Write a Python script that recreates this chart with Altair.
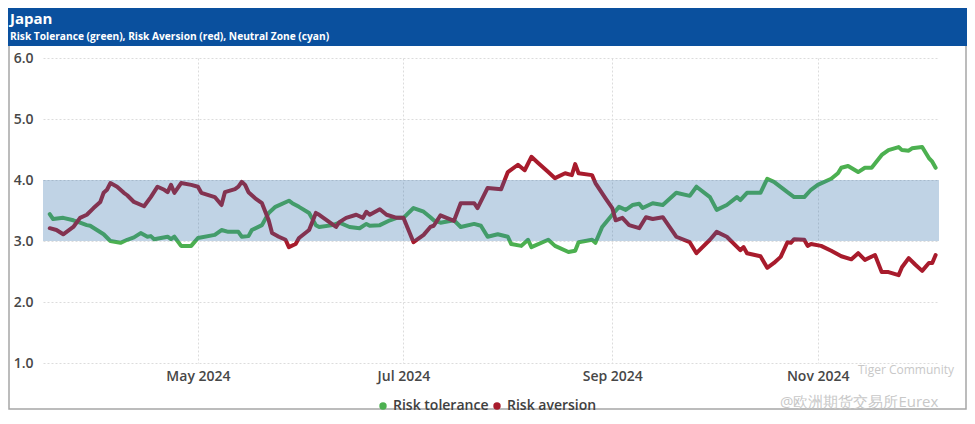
import altair as alt
import pandas as pd

# ---------------- data ----------------
tol_dates = ["2024-03-18","2024-03-19","2024-03-22","2024-03-25","2024-03-27","2024-03-29","2024-03-30",
 "2024-04-01","2024-04-03","2024-04-05","2024-04-08","2024-04-10","2024-04-12","2024-04-14","2024-04-16",
 "2024-04-17","2024-04-18","2024-04-22","2024-04-23","2024-04-24","2024-04-26","2024-04-29","2024-05-01",
 "2024-05-06","2024-05-08","2024-05-10","2024-05-13","2024-05-14","2024-05-16","2024-05-17","2024-05-20",
 "2024-05-22","2024-05-24","2024-05-28","2024-05-29","2024-05-31","2024-06-03","2024-06-05","2024-06-06",
 "2024-06-10","2024-06-12","2024-06-15","2024-06-18","2024-06-20","2024-06-21","2024-06-24","2024-06-27",
 "2024-06-29","2024-07-01","2024-07-04","2024-07-07","2024-07-09","2024-07-10","2024-07-12","2024-07-16",
 "2024-07-18","2024-07-22","2024-07-24","2024-07-26","2024-07-29","2024-08-01","2024-08-02","2024-08-05",
 "2024-08-07","2024-08-08","2024-08-13","2024-08-15","2024-08-19","2024-08-21","2024-08-22","2024-08-26",
 "2024-08-27","2024-08-29","2024-09-01","2024-09-03","2024-09-05","2024-09-07","2024-09-09","2024-09-10",
 "2024-09-13","2024-09-16","2024-09-20","2024-09-24","2024-09-26","2024-09-30","2024-10-02","2024-10-05",
 "2024-10-08","2024-10-09","2024-10-11","2024-10-15","2024-10-17","2024-10-19","2024-10-23","2024-10-25",
 "2024-10-28","2024-10-30","2024-11-01","2024-11-05","2024-11-07","2024-11-08","2024-11-10","2024-11-13",
 "2024-11-15","2024-11-17","2024-11-20","2024-11-22","2024-11-25","2024-11-26","2024-11-28","2024-11-29",
 "2024-12-02","2024-12-04","2024-12-05","2024-12-06"]
tol_values = [3.44,3.36,3.38,3.34,3.30,3.26,3.25,
 3.18,3.11,3.00,2.97,3.02,3.06,3.13,3.07,
 3.08,3.03,3.07,3.03,3.07,2.92,2.92,3.05,
 3.10,3.18,3.15,3.15,3.07,3.08,3.18,3.26,
 3.46,3.56,3.66,3.62,3.56,3.46,3.26,3.23,
 3.26,3.30,3.23,3.21,3.28,3.25,3.26,3.34,
 3.38,3.38,3.54,3.48,3.39,3.34,3.30,3.34,
 3.23,3.28,3.25,3.07,3.11,3.07,2.95,2.92,
 3.02,2.90,3.02,2.92,2.82,2.84,2.98,3.02,
 2.97,3.23,3.43,3.56,3.51,3.59,3.61,3.54,
 3.62,3.59,3.79,3.74,3.89,3.72,3.51,3.59,
 3.72,3.67,3.79,3.79,4.02,3.97,3.80,3.72,
 3.72,3.84,3.92,4.02,4.11,4.20,4.23,4.13,
 4.20,4.20,4.41,4.49,4.54,4.49,4.48,4.52,
 4.54,4.36,4.30,4.20]

avr_dates = ["2024-03-18","2024-03-20","2024-03-22","2024-03-25","2024-03-27","2024-03-29","2024-03-31",
 "2024-04-02","2024-04-03","2024-04-04","2024-04-05","2024-04-07","2024-04-09","2024-04-10","2024-04-12",
 "2024-04-15","2024-04-17","2024-04-19","2024-04-21","2024-04-22","2024-04-23","2024-04-24","2024-04-26",
 "2024-04-29","2024-05-01","2024-05-02","2024-05-06","2024-05-08","2024-05-09","2024-05-12","2024-05-13",
 "2024-05-14","2024-05-15","2024-05-16","2024-05-18","2024-05-20","2024-05-22","2024-05-23","2024-05-25",
 "2024-05-27","2024-05-28","2024-05-30","2024-05-31","2024-06-03","2024-06-05","2024-06-06","2024-06-11",
 "2024-06-12","2024-06-14","2024-06-17","2024-06-19","2024-06-20","2024-06-21","2024-06-24","2024-06-26",
 "2024-06-29","2024-07-01","2024-07-04","2024-07-07","2024-07-09","2024-07-10","2024-07-12","2024-07-16",
 "2024-07-18","2024-07-22","2024-07-23","2024-07-26","2024-07-30","2024-08-01","2024-08-04","2024-08-06",
 "2024-08-08","2024-08-10","2024-08-13","2024-08-15","2024-08-18","2024-08-20","2024-08-21","2024-08-22",
 "2024-08-26","2024-08-27","2024-08-30","2024-09-01","2024-09-02","2024-09-04","2024-09-06","2024-09-09",
 "2024-09-11","2024-09-13","2024-09-16","2024-09-20","2024-09-24","2024-09-26","2024-09-30","2024-10-02",
 "2024-10-05","2024-10-09","2024-10-10","2024-10-11","2024-10-15","2024-10-17","2024-10-19","2024-10-21",
 "2024-10-23","2024-10-24","2024-10-25","2024-10-28","2024-10-29","2024-10-30","2024-11-02","2024-11-05",
 "2024-11-08","2024-11-11","2024-11-13","2024-11-15","2024-11-18","2024-11-20","2024-11-22","2024-11-25",
 "2024-11-26","2024-11-28","2024-11-30","2024-12-02","2024-12-04","2024-12-05","2024-12-06"]
avr_values = [3.21,3.18,3.11,3.23,3.38,3.43,3.54,
 3.64,3.79,3.84,3.95,3.89,3.79,3.75,3.64,
 3.57,3.72,3.89,3.84,3.80,3.92,3.79,3.95,
 3.92,3.89,3.79,3.72,3.59,3.80,3.85,3.89,
 3.97,3.92,3.80,3.70,3.62,3.34,3.13,3.07,
 3.02,2.90,2.95,3.05,3.18,3.46,3.43,3.23,
 3.31,3.38,3.43,3.38,3.48,3.43,3.52,3.43,
 3.38,3.38,2.98,3.10,3.23,3.25,3.42,3.33,
 3.62,3.62,3.54,3.87,3.85,4.13,4.25,4.16,
 4.38,4.28,4.13,4.03,4.11,4.08,4.26,4.11,
 4.08,3.95,3.70,3.54,3.34,3.38,3.26,3.21,
 3.39,3.36,3.39,3.07,2.98,2.80,3.02,3.15,
 3.07,2.85,2.90,2.80,2.75,2.56,2.64,2.74,
 2.98,2.97,3.03,3.02,2.92,2.95,2.92,2.84,
 2.75,2.70,2.80,2.69,2.77,2.49,2.49,2.44,
 2.57,2.72,2.61,2.51,2.64,2.64,2.77]

series_names = ["Risk tolerance", "Risk aversion"]
series_colors = ["#4cb050", "#a81b2c"]
band_low = [3.0]
band_high = [4.0]
x_start = "2024-03-16"
x_end = "2024-12-07"
x_tick_dates = ["2024-05-01", "2024-07-01", "2024-09-01", "2024-11-01"]
y_ticks = [1, 2, 3, 4, 5, 6]
title_text = "Japan"
subtitle_text = "Risk Tolerance (green), Risk Aversion (red), Neutral Zone (cyan)"
watermark_1 = "Tiger Community"
watermark_2 = "@欧洲期货交易所Eurex"

# ---------------- tables ----------------
df = pd.concat([
    pd.DataFrame({"date": pd.to_datetime(tol_dates), "value": tol_values, "series": series_names[0]}),
    pd.DataFrame({"date": pd.to_datetime(avr_dates), "value": avr_values, "series": series_names[1]}),
], ignore_index=True)

band_df = pd.DataFrame({"start": pd.to_datetime([x_start]), "end": pd.to_datetime([x_end]),
                        "low": band_low, "high": band_high})

def dt(s):
    t = pd.Timestamp(s)
    return alt.DateTime(year=t.year, month=t.month, date=t.day)

W, H = 896, 305
FONT = "Open Sans"
x_scale = alt.Scale(domain=[dt(x_start), dt(x_end)], nice=False)
y_scale = alt.Scale(domain=[1, 6], nice=False, zero=False)

one = alt.Data(values=[{}])

frame = alt.Chart(one).mark_rect(fillOpacity=0, stroke="#a6a6a6", strokeWidth=1.5).encode(
    x=alt.value(-34), x2=alt.value(923), y=alt.value(-49), y2=alt.value(351))

header = alt.Chart(one).mark_rect(fill="#0a509e").encode(
    x=alt.value(-35), x2=alt.value(924), y=alt.value(-50), y2=alt.value(-12))

title = alt.Chart(one).mark_text(align="left", baseline="alphabetic", color="white",
                                 font=FONT, fontSize=15, fontWeight="bold").encode(
    x=alt.value(-33), y=alt.value(-34), text=alt.value(title_text))

subtitle = alt.Chart(one).mark_text(align="left", baseline="alphabetic", color="white",
                                    font=FONT, fontSize=10.2, fontWeight="bold").encode(
    x=alt.value(-33), y=alt.value(-18), text=alt.value(subtitle_text))

base = alt.Chart(df).encode(
    x=alt.X("date:T", scale=x_scale, title=None,
            axis=alt.Axis(values=[dt(d) for d in x_tick_dates], format="%b %Y", labelPadding=6,
                          labelAngle=0)),
    y=alt.Y("value:Q", scale=y_scale, title=None,
            axis=alt.Axis(values=y_ticks, format=".1f", labelPadding=10)),
)

lines = base.mark_line(strokeWidth=4, strokeJoin="round", strokeCap="round").encode(
    stroke=alt.Stroke("series:N", scale=alt.Scale(domain=series_names, range=series_colors),
                      legend=None),
    detail="series:N",
)

legend_pts = base.mark_point(filled=True, size=0, opacity=1).encode(
    fill=alt.Fill("series:N", scale=alt.Scale(domain=series_names, range=series_colors),
                  legend=alt.Legend(orient="none", legendX=333, legendY=341, direction="horizontal",
                                    title=None, symbolType="circle", symbolSize=55,
                                    symbolStrokeWidth=0, symbolOpacity=1,
                                    labelFontSize=14, labelFontWeight=600,
                                    labelFont=FONT, labelColor="#404040", columnPadding=1,
                                    labelOffset=3)),
)

band = alt.Chart(band_df).mark_rect(color="#2e6da9", opacity=0.3).encode(
    x=alt.X("start:T", title=None), x2="end:T",
    y=alt.Y("low:Q", title=None), y2="high:Q")

wm1 = alt.Chart(one).mark_text(align="left", baseline="middle", color="#c8c8c8", font=FONT,
                               fontSize=12).encode(
    x=alt.value(815), y=alt.value(312), text=alt.value(watermark_1))
wm2 = alt.Chart(one).mark_text(align="left", baseline="middle", color="#c8c8c8", font=FONT,
                               fontSize=15).encode(
    x=alt.value(737), y=alt.value(344), text=alt.value(watermark_2))

chart = alt.layer(frame, header, title, subtitle, lines, legend_pts, band, wm1, wm2).properties(
    width=W, height=H, padding=0
).resolve_scale(fill="independent", stroke="independent").configure_view(stroke=None).configure_axis(
    grid=True, gridDash=[2, 2], gridColor="#dcdcdc", gridWidth=1, domain=False, ticks=False,
    labelFont=FONT, labelFontSize=14, labelFontWeight=600, labelColor="#474747"
)

chart.save("out.html", embed_options={"renderer": "svg", "actions": False})
